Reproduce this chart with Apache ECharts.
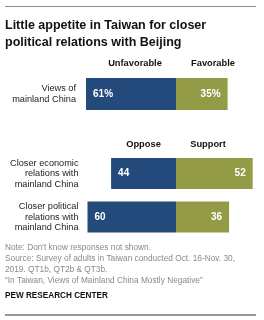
<!DOCTYPE html>
<html><head><meta charset="utf-8">
<script src="https://cdn.jsdelivr.net/npm/echarts@6/dist/echarts.min.js"></script>
<style>html,body{margin:0;padding:0;background:#fff}#c{width:264px;height:320px}</style>
</head><body><div id="c"></div>
<script>
const viewCategories = ['Views of\nmainland China'];
const unfavorable = [61];
const favorable = [35];
const relCategories = ['Closer economic\nrelations with\nmainland China', 'Closer political\nrelations with\nmainland China'];
const oppose = [44, 60];
const support = [52, 36];
const headers1 = ['Unfavorable', 'Favorable'];
const headers2 = ['Oppose', 'Support'];

const BLUE = '#244a7b', OLIVE = '#949b47';
const FONT = '"Liberation Sans", Arial, sans-serif';
const chart = echarts.init(document.getElementById('c'), null, {renderer: 'canvas'});

function xAx(gi) {
  return {gridIndex: gi, type: 'value', min: -65.08, max: 54.24, show: false};
}
function yAx(gi, data, margin, lh) {
  return {gridIndex: gi, type: 'category', data: data, inverse: true,
    axisLine: {show: false}, axisTick: {show: false},
    axisLabel: {margin: margin, color: '#222', fontFamily: FONT, fontSize: 9.2, lineHeight: lh, align: 'right'}};
}
function labelL(pct) {
  return {show: true, position: 'insideLeft', distance: 7, color: '#fff', fontWeight: 'bold', fontSize: 10, fontFamily: FONT,
    formatter: p => Math.abs(p.value) + (pct ? '%' : '')};
}
function labelR(pct) {
  return {show: true, position: 'insideRight', distance: 7, color: '#fff', fontWeight: 'bold', fontSize: 10, fontFamily: FONT,
    formatter: p => Math.abs(p.value) + (pct ? '%' : '')};
}

const option = {
  animation: false,
  grid: [
    {left: 80, right: 8, top: 72, height: 44},
    {left: 80, right: 8, top: 151.75, height: 87}
  ],
  xAxis: [xAx(0), xAx(1)],
  yAxis: [yAx(0, viewCategories, 4, 11), yAx(1, relCategories, 1.5, 10.5)],
  series: [
    {type: 'bar', xAxisIndex: 0, yAxisIndex: 0, stack: 'a', barWidth: 32, itemStyle: {color: BLUE},
      data: unfavorable.map(v => -v), label: labelL(true)},
    {type: 'bar', xAxisIndex: 0, yAxisIndex: 0, stack: 'a', barWidth: 32, itemStyle: {color: OLIVE},
      data: favorable, label: labelR(true)},
    {type: 'bar', xAxisIndex: 1, yAxisIndex: 1, stack: 'b', barWidth: 31, itemStyle: {color: BLUE},
      data: oppose.map(v => -v), label: labelL(false)},
    {type: 'bar', xAxisIndex: 1, yAxisIndex: 1, stack: 'b', barWidth: 31, itemStyle: {color: OLIVE},
      data: support, label: labelR(false)}
  ],
  graphic: [
    {type: 'line', shape: {x1: 5, y1: 6.5, x2: 256, y2: 6.5}, style: {stroke: '#8c8c8c', lineWidth: 1}},
    {type: 'text', left: 5, top: 17, style: {text: 'Little appetite in Taiwan for closer\npolitical relations with Beijing', font: 'bold 12.5px ' + FONT, fill: '#111', lineHeight: 17}},
    {type: 'text', x: 135, y: 63, style: {text: headers1[0], font: 'bold 9.3px ' + FONT, fill: '#111', textAlign: 'center', textVerticalAlign: 'middle'}},
    {type: 'text', x: 213, y: 63, style: {text: headers1[1], font: 'bold 9.3px ' + FONT, fill: '#111', textAlign: 'center', textVerticalAlign: 'middle'}},
    {type: 'text', x: 143.5, y: 144, style: {text: headers2[0], font: 'bold 9.3px ' + FONT, fill: '#111', textAlign: 'center', textVerticalAlign: 'middle'}},
    {type: 'text', x: 208, y: 144, style: {text: headers2[1], font: 'bold 9.3px ' + FONT, fill: '#111', textAlign: 'center', textVerticalAlign: 'middle'}},
    {type: 'text', left: 5, top: 242.5, style: {text: "Note: Don't know responses not shown.\nSource: Survey of adults in Taiwan conducted Oct. 16-Nov. 30,\n2019. QT1b, QT2b & QT3b.\n\u201cIn Taiwan, Views of Mainland China Mostly Negative\u201d", font: '8.3px ' + FONT, fill: '#8a8a8a', lineHeight: 11}},
    {type: 'text', left: 5, top: 291.5, style: {text: 'PEW RESEARCH CENTER', font: 'bold 8.2px ' + FONT, fill: '#111'}},
    {type: 'line', shape: {x1: 5, y1: 315, x2: 256, y2: 315}, style: {stroke: '#999', lineWidth: 2}}
  ]
};
chart.setOption(option);
</script></body></html>
